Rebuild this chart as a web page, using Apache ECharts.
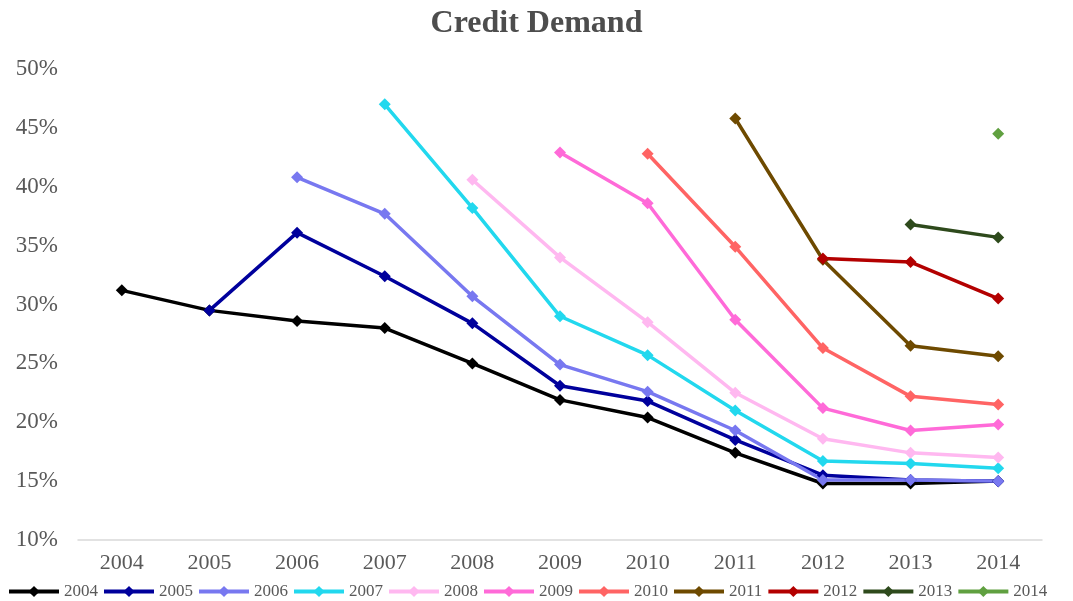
<!DOCTYPE html>
<html>
<head>
<meta charset="utf-8">
<title>Credit Demand</title>
<script src="https://cdn.jsdelivr.net/npm/echarts@6/dist/echarts.min.js"></script>
<style>
    html, body { margin: 0; padding: 0; background: #fff; }
    #chart { width: 1073px; height: 601px; }
</style>
</head>
<body>
<div id="chart"></div>
<script>
// x轴年份
const years = ['2004', '2005', '2006', '2007', '2008', '2009', '2010', '2011', '2012', '2013', '2014'];

// 每个年份一条线（单位 %）
const s2004 = [31.2, 29.5, 28.6, 28.0, 25.0, 21.9, 20.4, 17.4, 14.8, 14.8, 15.0];
const s2005 = [null, 29.5, 36.1, 32.4, 28.4, 23.1, 21.8, 18.5, 15.5, 15.1, 15.0];
const s2006 = [null, null, 40.8, 37.7, 30.7, 24.9, 22.6, 19.3, 15.1, 15.1, 15.0];
const s2007 = [null, null, null, 47.0, 38.2, 29.0, 25.7, 21.0, 16.7, 16.5, 16.1];
const s2008 = [null, null, null, null, 40.6, 34.0, 28.5, 22.5, 18.6, 17.4, 17.0];
const s2009 = [null, null, null, null, null, 42.9, 38.6, 28.7, 21.2, 19.3, 19.8];
const s2010 = [null, null, null, null, null, null, 42.8, 34.9, 26.3, 22.2, 21.5];
const s2011 = [null, null, null, null, null, null, null, 45.8, 33.8, 26.5, 25.6];
const s2012 = [null, null, null, null, null, null, null, null, 33.9, 33.6, 30.5];
const s2013 = [null, null, null, null, null, null, null, null, null, 36.8, 35.7];
const s2014 = [null, null, null, null, null, null, null, null, null, null, 44.5];

const yTicks = [10, 15, 20, 25, 30, 35, 40, 45, 50];

const names = ['2004', '2005', '2006', '2007', '2008', '2009', '2010', '2011', '2012', '2013', '2014'];
const values = [s2004, s2005, s2006, s2007, s2008, s2009, s2010, s2011, s2012, s2013, s2014];
const colors = ['#000000', '#00009c', '#7878f0', '#22d8ee', '#ffb8f0', '#ff6ad8',
                '#ff6464', '#6e4a00', '#b30000', '#2e4a1c', '#60a040'];

const drawChart = function () {
    let myChart = echarts.init(document.getElementById('chart'));

    let series = names.map(function (name, i) {
        return {
            name: name,
            type: 'line',
            data: values[i],
            symbol: 'diamond',
            symbolSize: 12,
            lineStyle: { width: 3.5, color: colors[i] },
            itemStyle: { color: colors[i] },
            emphasis: { disabled: true }
        };
    });

    let option = {
        animation: false,
        color: colors,
        title: {
            text: 'Credit Demand',
            left: 'center',
            top: 3,
            textStyle: {
                fontFamily: 'Liberation Serif',
                fontSize: 32,
                fontWeight: 'bold',
                color: '#4d4d4d'
            }
        },
        legend: {
            data: names,
            left: 2,
            bottom: -4,
            itemWidth: 50,
            itemHeight: 14,
            itemGap: 4,
            lineStyle: { width: 4 },
            textStyle: {
                fontFamily: 'Liberation Serif',
                fontSize: 17,
                color: '#595959'
            }
        },
        grid: {
            left: 78,
            right: 31,
            top: 69,
            bottom: 61
        },
        xAxis: {
            type: 'category',
            data: years,
            boundaryGap: true,
            axisLine: { lineStyle: { color: '#d9d9d9', width: 1.5 } },
            axisTick: { show: false },
            axisLabel: {
                margin: 12,
                fontFamily: 'Liberation Serif',
                fontSize: 22,
                color: '#595959'
            }
        },
        yAxis: {
            type: 'value',
            min: yTicks[0],
            max: yTicks[yTicks.length - 1],
            interval: 5,
            axisLine: { show: false },
            axisTick: { show: false },
            splitLine: { show: false },
            axisLabel: {
                margin: 20,
                fontFamily: 'Liberation Serif',
                fontSize: 23,
                color: '#595959',
                formatter: '{value}%'
            }
        },
        series: series
    };

    myChart.setOption(option);
};

drawChart();
</script>
</body>
</html>
